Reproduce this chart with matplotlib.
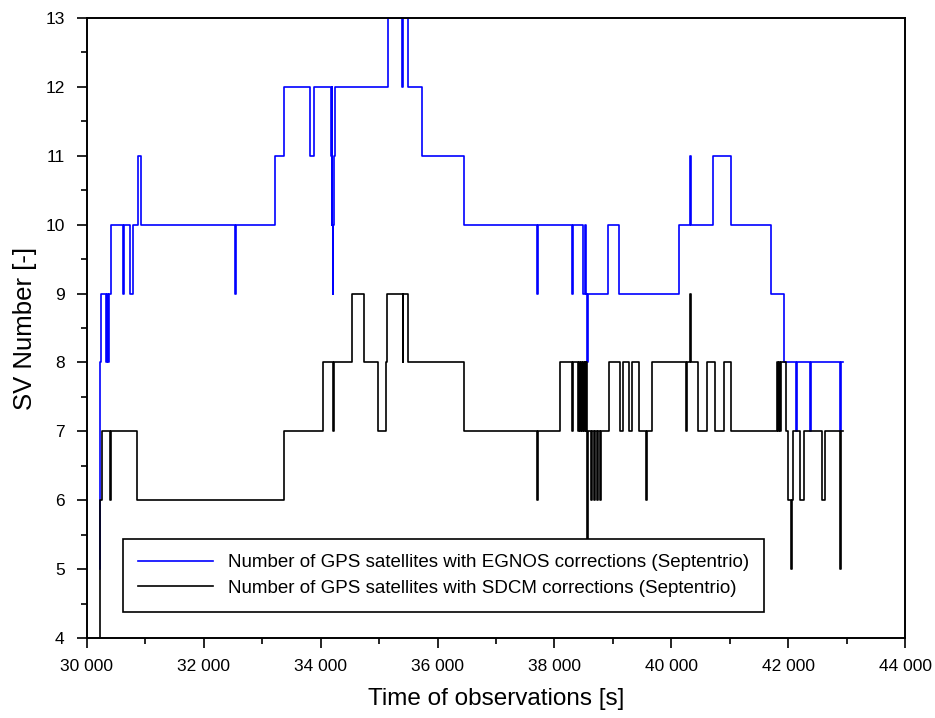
import matplotlib
matplotlib.use("Agg")
import matplotlib.pyplot as plt
from matplotlib.ticker import MultipleLocator, FuncFormatter

# Change points (time [s], satellites), drawn as steps
egnos_t = [30217, 30222, 30245, 30330, 30345, 30365, 30380, 30411, 30625, 30640,
           30740, 30790, 30880, 30930, 32530, 32545, 33217, 33371, 33816, 33884,
           34175, 34185, 34192, 34200, 34208, 34218, 34226, 34245, 35150, 35390,
           35410, 35498, 35738, 36456, 37705, 37720, 38305, 38320, 38492, 38520,
           38545, 38560, 38580, 38920, 39108, 40134, 40322, 40336, 40716, 41013,
           41698, 41926, 42135, 42150, 42380, 42395, 42880, 42895, 42940]
egnos_n = [5, 8, 9, 8, 9, 8, 9, 10, 9, 10,
           9, 10, 11, 10, 9, 10, 11, 12, 11, 12,
           11, 10, 12, 10, 9, 10, 11, 12, 13, 12,
           13, 12, 11, 10, 9, 10, 9, 10, 9, 10,
           9, 8, 9, 10, 9, 10, 11, 10, 11, 10,
           9, 8, 7, 8, 7, 8, 7, 8, 8]

sdcm_t = [30217, 30222, 30250, 30392, 30405, 30855, 33365, 34045, 34210, 34222,
          34529, 34740, 34985, 35110, 35138, 35400, 35414, 35498, 36456, 37705,
          37720, 38100, 38300, 38320, 38406, 38420, 38440, 38455, 38475, 38490,
          38505, 38520, 38535, 38548, 38558, 38575, 38630, 38642, 38675, 38687,
          38725, 38737, 38785, 38797, 38937, 39120, 39176, 39279, 39320, 39445,
          39570, 39582, 39667, 40255, 40267, 40322, 40336, 40459, 40603, 40745,
          40899, 41013, 41811, 41825, 41840, 41855, 41870, 41960, 41994, 42050,
          42062, 42084, 42200, 42273, 42570, 42637, 42880, 42895, 42940]
sdcm_n = [4, 6, 7, 6, 7, 6, 7, 8, 7, 8,
          9, 8, 7, 8, 9, 8, 9, 8, 7, 6,
          7, 8, 7, 8, 7, 8, 7, 8, 7, 8,
          7, 8, 7, 8, 5, 7, 6, 7, 6, 7,
          6, 7, 6, 7, 8, 7, 8, 7, 8, 7,
          6, 7, 8, 7, 8, 9, 8, 7, 8, 7,
          8, 7, 8, 7, 8, 7, 8, 7, 6, 5,
          6, 7, 6, 7, 6, 7, 5, 7, 7]

label_egnos = "Number of GPS satellites with EGNOS corrections (Septentrio)"
label_sdcm = "Number of GPS satellites with SDCM corrections (Septentrio)"

plt.rcParams["font.family"] = ["Liberation Sans", "DejaVu Sans"]

fig = plt.figure(figsize=(9.35, 7.18), dpi=100)
ax = fig.add_axes([0.093, 0.1114, 0.875, 0.8636])

ax.plot(egnos_t, egnos_n, drawstyle="steps-post", color="#0000ff", lw=1.2,
        label=label_egnos)
ax.plot(sdcm_t, sdcm_n, drawstyle="steps-post", color="black", lw=1.2,
        label=label_sdcm)

ax.set_xlim(30000, 44000)
ax.set_ylim(4, 13)
ax.xaxis.set_major_locator(MultipleLocator(2000))
ax.xaxis.set_minor_locator(MultipleLocator(1000))
ax.yaxis.set_major_locator(MultipleLocator(1))
ax.yaxis.set_minor_locator(MultipleLocator(0.5))
ax.xaxis.set_major_formatter(FuncFormatter(lambda v, p: f"{int(v):,}".replace(",", " ")))

ax.tick_params(which="both", direction="out", top=False, right=False, width=1.2,
               labelsize=12.5)
ax.tick_params(which="major", length=7)
ax.tick_params(which="minor", length=4)
ax.tick_params(axis="x", which="major", pad=8)
ax.tick_params(axis="y", which="major", pad=9)
for sp in ax.spines.values():
    sp.set_linewidth(1.4)

ax.set_xlabel("Time of observations [s]", fontsize=17.5, labelpad=10)
ax.set_ylabel("SV Number [-]", fontsize=18.5, labelpad=6)

leg = ax.legend(loc="lower left", bbox_to_anchor=(0.044, 0.042), fontsize=13.5,
                fancybox=False, edgecolor="black", framealpha=1,
                handlelength=4.0, handletextpad=0.8, borderpad=0.8,
                labelspacing=0.45, borderaxespad=0)
leg.get_frame().set_linewidth(1.2)

fig.savefig("out.png", dpi=100)
